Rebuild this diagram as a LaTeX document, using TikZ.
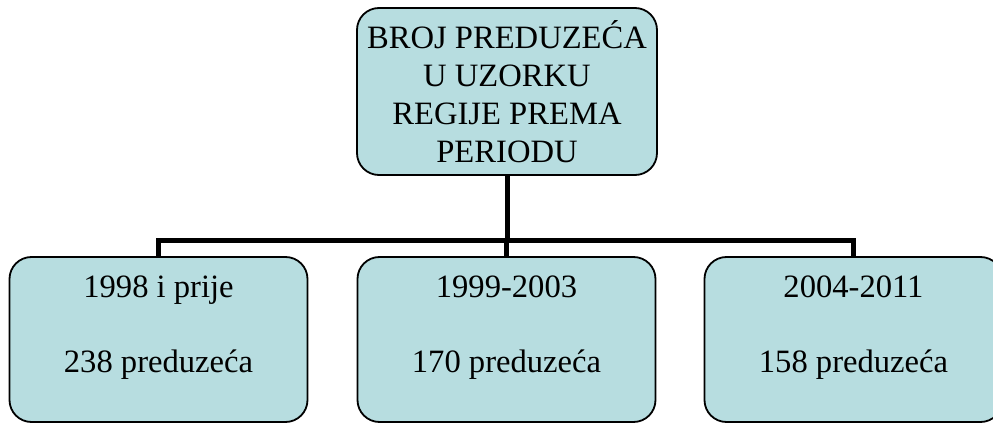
\documentclass[tikz,border=0pt]{standalone}
\usepackage{fontspec}
\setmainfont{Liberation Serif}
\usetikzlibrary{positioning}
\definecolor{boxblue}{RGB}{183,221,224}

\begin{document}
\begin{tikzpicture}[x=0.5pt,y=-0.5pt]
%styles
	\tikzset{
	box/.style={draw, fill=boxblue, rounded corners=11pt, line width=0.9pt, inner sep=0pt, align=center, font=\fontsize{16.3}{19}\selectfont},
	period/.style={box, minimum width=149pt, text height=57.5pt, text depth=25pt},
	link/.style={line width=2.5pt}}
	\useasboundingbox (0,0) rectangle (993,423);

%oben
	\node[box, minimum width=150pt, minimum height=83.5pt] (top) at (507,91.5) {BROJ PREDUZEĆA\\U UZORKU\\REGIJE PREMA\\PERIODU};

%unten
	\node[period] (p1) at (158.5,339.5) {1998 i prije\\[18.5pt]238 preduzeća};
	\node[period] (p2) at (506.5,339.5) {1999-2003\\[18.5pt]170 preduzeća};
	\node[period] (p3) at (853.5,339.5) {2004-2011\\[18.5pt]158 preduzeća};

%linien
	\coordinate (bar) at (0,240);
	\draw[link] (top.south) -- (top.south |- bar);
	\draw[link] (p1.north) -- (p1.north |- bar) -- (p3.north |- bar) -- (p3.north);
	\draw[link] (p2.north) -- (p2.north |- bar);
\end{tikzpicture}
\end{document}
